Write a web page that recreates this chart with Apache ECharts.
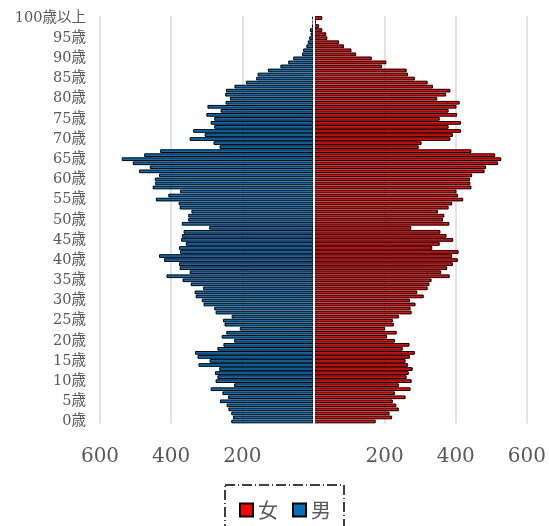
<!DOCTYPE html>
<html>
<head>
<meta charset="utf-8">
<script src="https://cdn.jsdelivr.net/npm/echarts@6/dist/echarts.min.js"></script>
<style>html,body{margin:0;padding:0;background:#fff;}#c{width:549px;height:526px;}</style>
</head>
<body>
<div id="c"></div>
<script>
// Ages 0..99 and "100歳以上"
var ages = [];
for (var i = 0; i < 100; i++) ages.push(i + '歳');
ages.push('100歳以上');

var seriesNames = ['女', '男'];
var xTicks = [-600, -400, -200, 0, 200, 400, 600];

// 男 (male) population by age 0..100+
var male = [231,226,231,239,244,263,240,256,289,223,
            275,270,277,265,323,292,326,333,270,253,
            223,258,245,207,250,254,230,275,279,309,
            314,331,334,310,345,368,413,348,376,378,
            420,434,375,378,359,372,370,365,293,370,
            352,352,343,376,379,443,408,375,452,445,
            446,434,490,460,508,539,476,431,264,281,
            348,306,338,279,289,279,301,261,298,247,
            235,248,246,222,190,161,157,128,93,71,
            57,32,29,20,16,12,8,10,4,2,
            3];
// 女 (female) population by age 0..100+
var female = [175,221,214,240,233,223,259,229,273,240,
              276,262,268,279,266,259,271,285,251,270,
              229,207,234,201,226,223,240,276,273,287,
              271,310,292,321,326,332,383,359,376,392,
              406,390,408,334,355,393,374,357,275,382,
              364,368,350,380,390,421,406,402,444,441,
              440,446,481,485,519,528,511,444,296,304,
              385,392,415,380,415,355,404,380,402,411,
              348,373,385,336,321,285,266,262,193,205,
              164,120,107,86,72,39,36,25,16,7,
              25];

var maleNeg = male.map(function (v) { return -v; });

var chart = echarts.init(document.getElementById('c'), null, {renderer: 'canvas'});
chart.setOption({
  animation: false,
  backgroundColor: '#ffffff',
  grid: {left: 100, right: 21, top: 16, bottom: 102.5, containLabel: false},
  legend: {
    data: seriesNames,
    left: 225,
    top: 485,
    orient: 'horizontal',
    itemWidth: 13,
    itemHeight: 13,
    itemGap: 14,
    padding: [15, 13, 15, 14],
    borderColor: '#000',
    borderWidth: 1.5,
    borderType: [10, 3, 1, 3],
    icon: 'rect',
    textStyle: {fontSize: 20, color: '#595959', fontFamily: 'Noto Sans CJK JP'}
  },
  xAxis: {
    type: 'value',
    min: xTicks[0],
    max: xTicks[xTicks.length - 1],
    interval: 200,
    axisLine: {show: false},
    axisTick: {show: false},
    splitLine: {show: true, lineStyle: {color: '#d9d9d9', width: 1.5}},
    axisLabel: {
      margin: 23,
      fontSize: 20,
      fontFamily: 'DejaVu Serif',
      color: '#595959',
      formatter: function (v) { return v === 0 ? '' : String(Math.abs(v)); }
    }
  },
  yAxis: {
    type: 'category',
    data: ages,
    axisLine: {show: false},
    axisTick: {show: false},
    splitLine: {show: false},
    axisLabel: {
      interval: 4,
      margin: 14,
      fontSize: 14.5,
      fontFamily: 'DejaVu Serif, Noto Sans CJK JP',
      color: '#595959'
    }
  },
  series: [
    {
      name: '女',
      type: 'bar',
      data: female,
      barGap: '-100%',
      barCategoryGap: '8%',
      itemStyle: {color: '#ff0000', borderColor: '#000', borderWidth: 1}
    },
    {
      name: '男',
      type: 'bar',
      data: maleNeg,
      barGap: '-100%',
      barCategoryGap: '8%',
      itemStyle: {color: '#0070c0', borderColor: '#000', borderWidth: 1},
      markLine: {
        silent: true,
        symbol: 'none',
        label: {show: false},
        lineStyle: {color: '#ffffff', width: 2, type: 'solid'},
        data: [{xAxis: 0}]
      }
    }
  ]
});
</script>
</body>
</html>
